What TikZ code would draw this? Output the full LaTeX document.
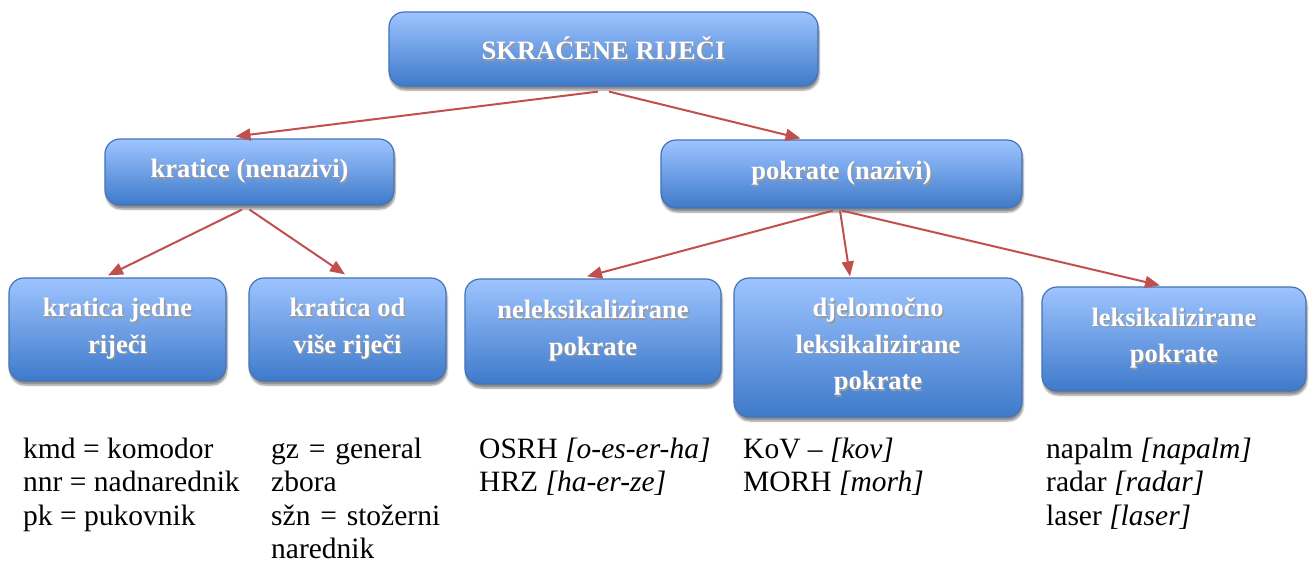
\documentclass[tikz,border=0pt]{standalone}
\usepackage{fontspec}
\setmainfont{Liberation Serif}
\usetikzlibrary{arrows.meta,shadows.blur}
\definecolor{boxtop}{RGB}{158,196,255}
\definecolor{boxbot}{RGB}{62,122,202}
\definecolor{boxline}{RGB}{68,114,184}
\definecolor{arrred}{RGB}{192,80,77}
\newcommand\shd[1]{\makebox[0pt][l]{\kern1.3pt\raisebox{-1.3pt}{\textcolor{black!40}{#1}}}#1}
\begin{document}
\begin{tikzpicture}[x=1pt,y=-1pt,
  box/.style={draw=boxline, line width=1.2pt, rounded corners=15pt,
    top color=boxtop, bottom color=boxbot, text=white, align=center,
    font=\fontsize{26.5}{36.5}\selectfont\bfseries, inner sep=0pt,
    blur shadow={shadow xshift=1pt, shadow yshift=-4pt, shadow blur steps=6, shadow opacity=45}},
  arr/.style={draw=arrred, line width=2pt, -{Triangle[length=15pt,width=12pt]}},
  ex/.style={anchor=north west, inner sep=0pt, align=left, font=\fontsize{29.5}{33.3}\selectfont}
]
\useasboundingbox (0,0) rectangle (1312,563);

\node[box, minimum width=429pt, minimum height=74pt] (top) at (603.5,49) {\shd{SKRAĆENE RIJEČI}};
\node[box, minimum width=289pt, minimum height=66pt] (kratice) at (249.5,172) {\shd{kratice (nenazivi)}};
\node[box, minimum width=361pt, minimum height=68pt] (pokrate) at (841.5,174) {\shd{pokrate (nazivi)}};

\node[box, minimum width=217pt, minimum height=103pt] (k1) at (117.5,329.5) {\shd{kratica jedne}\\\shd{riječi}};
\node[box, minimum width=197pt, minimum height=103pt] (k2) at (347.5,329.5) {\shd{kratica od}\\\shd{više riječi}};
\node[box, minimum width=256pt, minimum height=105pt] (n1) at (593,331.5) {\shd{neleksikalizirane}\\\shd{pokrate}};
\node[box, minimum width=288pt, minimum height=139pt] (dl) at (878,347.5) {\shd{djelomočno}\\\shd{leksikalizirane}\\\shd{pokrate}};
\node[box, minimum width=264pt, minimum height=104pt] (lk) at (1174,339) {\shd{leksikalizirane}\\\shd{pokrate}};

\draw[arr] ([xshift=-5.5pt,yshift=-5pt]top.south) -- ([xshift=-14pt,yshift=2pt]kratice.north);
\draw[arr] ([xshift=5.5pt,yshift=-5pt]top.south) -- ([xshift=-41pt,yshift=1pt]pokrate.north);
\draw[arr] ([xshift=-7.5pt,yshift=-4pt]kratice.south) -- ([xshift=-9.5pt,yshift=2pt]k1.north);
\draw[arr] ([xshift=0pt,yshift=-4pt]kratice.south) -- ([xshift=-2.5pt,yshift=3pt]k2.north);
\draw[arr] ([xshift=-8.5pt,yshift=-2pt]pokrate.south) -- ([xshift=-6pt,yshift=2pt]n1.north);
\draw[arr] ([xshift=-1.5pt,yshift=-2pt]pokrate.south) -- ([xshift=-28pt,yshift=1pt]dl.north);
\draw[arr] ([xshift=0.5pt,yshift=-2pt]pokrate.south) -- ([xshift=-14pt,yshift=1pt]lk.north);

\node[ex] (e1) at (23,435) {\strut kmd = komodor\\nnr = nadnarednik\\pk = pukovnik};
\node[ex, text width=176pt] (e2) at (271,435) {\strut\makebox[176pt][s]{gz = general}\\zbora\\\makebox[176pt][s]{sžn = stožerni}\\narednik};
\node[ex] (e3) at (479,435) {\strut OSRH \textit{[o-es-er-ha]}\\HRZ \textit{[ha-er-ze]}};
\node[ex] (e4) at (743,435) {\strut KoV \textit{– [kov]}\\MORH \textit{[morh]}};
\node[ex] (e5) at (1046,435) {\strut napalm \textit{[napalm]}\\radar \textit{[radar]}\\laser \textit{[laser]}};
\end{tikzpicture}
\end{document}
